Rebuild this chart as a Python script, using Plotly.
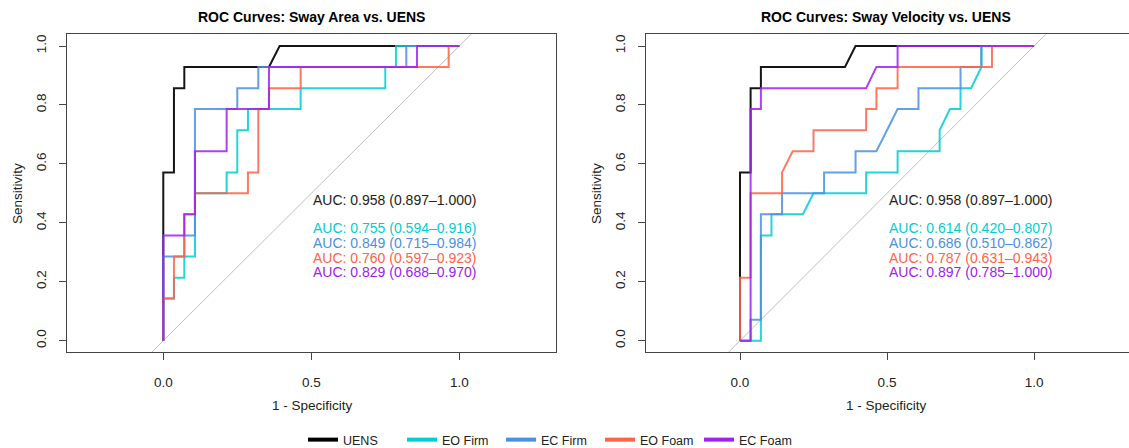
import plotly.graph_objects as go

W, H = 1129, 448

# ---------------- data ----------------
series_names = ["UENS", "EO Firm", "EC Firm", "EO Foam", "EC Foam"]
series_colors = ["#000000", "#00CED1", "#4A90E2", "#FF6347", "#A020F0"]

# Panel 1: Sway Area  (x = 1 - specificity, y = sensitivity)
area_uens_x = [0, 0, 0.036, 0.036, 0.071, 0.071, 0.357, 0.393, 1.0]
area_uens_y = [0, 0.571, 0.571, 0.857, 0.857, 0.929, 0.929, 1.0, 1.0]

area_eofirm_x = [0, 0, 0.036, 0.036, 0.071, 0.071, 0.107, 0.107, 0.214, 0.214, 0.25,
                 0.25, 0.286, 0.286, 0.464, 0.464, 0.75, 0.75, 0.786, 0.786, 1.0]
area_eofirm_y = [0, 0.143, 0.143, 0.214, 0.214, 0.286, 0.286, 0.5, 0.5, 0.571, 0.571,
                 0.714, 0.714, 0.786, 0.786, 0.857, 0.857, 0.929, 0.929, 1.0, 1.0]

area_ecfirm_x = [0, 0, 0.071, 0.071, 0.107, 0.107, 0.25, 0.25, 0.321, 0.321, 0.821, 0.821, 1.0]
area_ecfirm_y = [0, 0.286, 0.286, 0.357, 0.357, 0.786, 0.786, 0.857, 0.857, 0.929, 0.929, 1.0, 1.0]

area_eofoam_x = [0, 0, 0.036, 0.036, 0.071, 0.071, 0.107, 0.107, 0.286, 0.286, 0.321,
                 0.321, 0.357, 0.357, 0.464, 0.464, 0.964, 0.964, 1.0]
area_eofoam_y = [0, 0.143, 0.143, 0.286, 0.286, 0.429, 0.429, 0.5, 0.5, 0.571, 0.571,
                 0.786, 0.786, 0.857, 0.857, 0.929, 0.929, 1.0, 1.0]

area_ecfoam_x = [0, 0, 0.071, 0.071, 0.107, 0.107, 0.214, 0.214, 0.357, 0.357, 0.857, 0.857, 1.0]
area_ecfoam_y = [0, 0.357, 0.357, 0.429, 0.429, 0.643, 0.643, 0.786, 0.786, 0.929, 0.929, 1.0, 1.0]

# Panel 2: Sway Velocity
vel_uens_x = [0, 0, 0.036, 0.036, 0.071, 0.071, 0.357, 0.393, 1.0]
vel_uens_y = [0, 0.571, 0.571, 0.857, 0.857, 0.929, 0.929, 1.0, 1.0]

vel_eofirm_x = [0, 0.071, 0.071, 0.107, 0.107, 0.214, 0.25, 0.429, 0.429, 0.536,
                0.536, 0.679, 0.679, 0.714, 0.75, 0.75, 0.786, 0.821, 0.821, 1.0]
vel_eofirm_y = [0, 0, 0.357, 0.357, 0.429, 0.429, 0.5, 0.5, 0.571, 0.571,
                0.643, 0.643, 0.714, 0.786, 0.786, 0.857, 0.857, 0.929, 1.0, 1.0]

vel_ecfirm_x = [0, 0.036, 0.036, 0.071, 0.071, 0.143, 0.143, 0.286, 0.286, 0.393,
                0.393, 0.464, 0.536, 0.607, 0.607, 0.75, 0.75, 0.821, 0.821, 1.0]
vel_ecfirm_y = [0, 0, 0.071, 0.071, 0.429, 0.429, 0.5, 0.5, 0.571, 0.571,
                0.643, 0.643, 0.786, 0.786, 0.857, 0.857, 0.929, 0.929, 1.0, 1.0]

vel_eofoam_x = [0, 0, 0.036, 0.036, 0.143, 0.143, 0.179, 0.25, 0.25, 0.429, 0.429,
                0.464, 0.464, 0.536, 0.536, 0.857, 0.857, 1.0]
vel_eofoam_y = [0, 0.214, 0.214, 0.5, 0.5, 0.571, 0.643, 0.643, 0.714, 0.714, 0.786,
                0.786, 0.857, 0.857, 0.929, 0.929, 1.0, 1.0]

vel_ecfoam_x = [0, 0.036, 0.036, 0.071, 0.071, 0.429, 0.464, 0.536, 0.536, 1.0]
vel_ecfoam_y = [0, 0, 0.786, 0.786, 0.857, 0.857, 0.929, 0.929, 1.0, 1.0]

area_auc_labels = ["AUC: 0.958 (0.897\u20131.000)", "AUC: 0.755 (0.594\u20130.916)",
                   "AUC: 0.849 (0.715\u20130.984)", "AUC: 0.760 (0.597\u20130.923)",
                   "AUC: 0.829 (0.688\u20130.970)"]
vel_auc_labels = ["AUC: 0.958 (0.897\u20131.000)", "AUC: 0.614 (0.420\u20130.807)",
                  "AUC: 0.686 (0.510\u20130.862)", "AUC: 0.787 (0.631\u20130.943)",
                  "AUC: 0.897 (0.785\u20131.000)"]

x_ticks = [0, 0.5, 1.0]
y_ticks = [0, 0.2, 0.4, 0.6, 0.8, 1.0]

# ---------------- figure ----------------
FONT = "Liberation Sans, Arial, Helvetica, sans-serif"
panels = [
    dict(xa="x", ya="y",
         curves=[(area_uens_x, area_uens_y), (area_eofirm_x, area_eofirm_y),
                 (area_ecfirm_x, area_ecfirm_y), (area_eofoam_x, area_eofoam_y),
                 (area_ecfoam_x, area_ecfoam_y)],
         labels=area_auc_labels),
    dict(xa="x2", ya="y2",
         curves=[(vel_uens_x, vel_uens_y), (vel_eofirm_x, vel_eofirm_y),
                 (vel_ecfirm_x, vel_ecfirm_y), (vel_eofoam_x, vel_eofoam_y),
                 (vel_ecfoam_x, vel_ecfoam_y)],
         labels=vel_auc_labels),
]

fig = go.Figure()
label_y = [0.477, 0.382, 0.333, 0.282, 0.232]
annotations = []
for p in panels:
    # chance diagonal
    fig.add_trace(go.Scatter(x=[-0.2, 1.2], y=[-0.2, 1.2], mode="lines",
                             line=dict(color="#BEBEBE", width=1), xaxis=p["xa"], yaxis=p["ya"],
                             showlegend=False, hoverinfo="skip"))
    for (cx, cy), name, col in zip(p["curves"], series_names, series_colors):
        fig.add_trace(go.Scatter(x=cx, y=cy, mode="lines", name=name,
                                 line=dict(color=col, width=2), opacity=0.85 if col != "#000000" else 0.9,
                                 xaxis=p["xa"], yaxis=p["ya"], showlegend=False, legendgroup=name))
    for txt, col, yy in zip(p["labels"], series_colors, label_y):
        annotations.append(dict(x=0.5, y=yy, xref=p["xa"], yref=p["ya"], text=txt,
                                showarrow=False, xanchor="left", yanchor="middle",
                                font=dict(family=FONT, size=14,
                                          color="#222222" if col == "#000000" else col)))

# legend entries
for name, col in zip(series_names, series_colors):
    fig.add_trace(go.Scatter(x=[None], y=[None], mode="lines", name=name,
                             line=dict(color=col, width=4), legendgroup=name, showlegend=True))

def px_x(v):
    return v / W

def px_y(v):
    return (H - v) / H

axis_common = dict(showgrid=False, zeroline=False, showline=True, mirror=True,
                   linecolor="#444444", linewidth=1, ticks="outside", ticklen=7,
                   tickwidth=1, tickcolor="#444444",
                   tickfont=dict(family=FONT, size=13.5, color="#222222"))

ydom = [px_y(352.3), px_y(34.3)]
fig.update_layout(
    width=W, height=H,
    margin=dict(l=0, r=0, t=0, b=0, autoexpand=False),
    paper_bgcolor="white", plot_bgcolor="white",
    xaxis=dict(domain=[px_x(67), px_x(556)], range=[-0.3253, 1.3267], anchor="y",
               tickvals=x_ticks, ticktext=["0.0", "0.5", "1.0"], ticklabelstandoff=10, **axis_common),
    yaxis=dict(domain=ydom, range=[-0.0394, 1.0397], anchor="x",
               tickvals=y_ticks, ticktext=["0.0", "0.2", "0.4", "0.6", "0.8", "1.0"],
               tickangle=-90, ticklabelstandoff=8, **axis_common),
    xaxis2=dict(domain=[px_x(646), 1.0], range=[-0.3197, 1.323], anchor="y2",
                tickvals=x_ticks, ticktext=["0.0", "0.5", "1.0"], ticklabelstandoff=10, **axis_common),
    yaxis2=dict(domain=ydom, range=[-0.0394, 1.0397], anchor="x2",
                tickvals=y_ticks, ticktext=["0.0", "0.2", "0.4", "0.6", "0.8", "1.0"],
                tickangle=-90, ticklabelstandoff=8, **axis_common),
    legend=dict(orientation="h", x=px_x(303), xanchor="left", y=px_y(440), yanchor="middle",
                font=dict(family=FONT, size=12.5, color="#222222"),
                entrywidth=54, entrywidthmode="pixels", bgcolor="rgba(0,0,0,0)"),
    showlegend=True,
)

# titles and axis labels
for cx, title in [(311.5, "ROC Curves: Sway Area vs. UENS"), (886, "ROC Curves: Sway Velocity vs. UENS")]:
    annotations.append(dict(x=px_x(cx), y=px_y(17), xref="paper", yref="paper", text="<b>%s</b>" % title,
                            showarrow=False, xanchor="center", yanchor="middle",
                            font=dict(family=FONT, size=14, color="#000000")))
for cx in [312, 886]:
    annotations.append(dict(x=px_x(cx), y=px_y(405), xref="paper", yref="paper", text="1 - Specificity",
                            showarrow=False, xanchor="center", yanchor="middle",
                            font=dict(family=FONT, size=13.5, color="#222222")))
for cx in [17, 596]:
    annotations.append(dict(x=px_x(cx), y=px_y(194), xref="paper", yref="paper", text="Sensitivity",
                            showarrow=False, xanchor="center", yanchor="middle", textangle=-90,
                            font=dict(family=FONT, size=13.5, color="#222222")))
fig.update_layout(annotations=annotations)

fig.write_html("out.html")
